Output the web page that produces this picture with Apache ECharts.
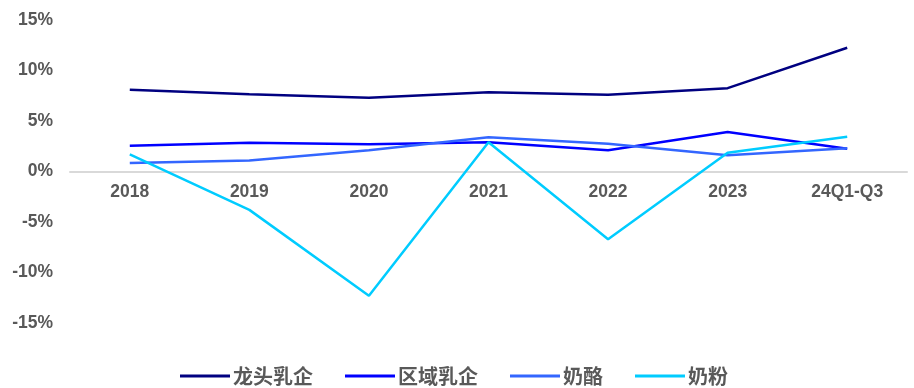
<!DOCTYPE html>
<html><head><meta charset="utf-8">
<script src="https://cdn.jsdelivr.net/npm/echarts@6/dist/echarts.min.js"></script>
<style>html,body{margin:0;padding:0;background:#fff}#c{width:914px;height:388px}</style>
</head><body><div id="c"></div>
<script>
const categories = ['2018','2019','2020','2021','2022','2023','24Q1-Q3'];
const seriesNames = ['龙头乳企','区域乳企','奶酪','奶粉'];
const leaders = [8.1, 7.65, 7.3, 7.85, 7.6, 8.25, 12.25];
const regional = [2.55, 2.85, 2.7, 2.9, 2.1, 3.9, 2.25];
const cheese = [0.85, 1.1, 2.1, 3.4, 2.75, 1.6, 2.3];
const milkPowder = [1.7, -3.8, -12.3, 2.9, -6.7, 1.85, 3.45];
const yTicks = [-15, -10, -5, 0, 5, 10, 15];
const colors = ['#000080', '#0000FF', '#3366FF', '#00CCFF'];
const values = [leaders, regional, cheese, milkPowder];

const gridTop = 20, gridBottom = 65, H = 388;
const plotH = H - gridTop - gridBottom;
const zeroOffset = plotH * (0 - yTicks[0]) / (yTicks[yTicks.length-1] - yTicks[0]);

const chart = echarts.init(document.getElementById('c'));
chart.setOption({
  animation: false,
  color: colors,
  grid: {left: 70, right: 7, top: gridTop, bottom: gridBottom, containLabel: false},
  legend: {
    top: 361, left: 175,
    data: seriesNames.map(n => ({name: n, icon: 'rect'})),
    itemWidth: 50, itemHeight: 3, itemGap: 32,
    textStyle: {color: '#595959', fontSize: 20, fontWeight: 'bold', fontFamily: 'Noto Sans CJK SC', padding: [0,0,0,-2]}
  },
  xAxis: {
    type: 'category', data: categories, boundaryGap: true,
    offset: -zeroOffset,
    axisLine: {onZero: false, lineStyle: {color: '#d9d9d9', width: 2}},
    axisTick: {show: false},
    axisLabel: {color: '#595959', fontSize: 17.5, fontWeight: 'bold', fontFamily: 'Liberation Sans', margin: 12}
  },
  yAxis: {
    type: 'value', min: yTicks[0], max: yTicks[yTicks.length-1], interval: 5,
    splitLine: {show: false}, axisLine: {show: false}, axisTick: {show: false},
    axisLabel: {color: '#595959', fontSize: 17.5, fontWeight: 'bold', fontFamily: 'Liberation Sans', margin: 17, formatter: v => v + '%'}
  },
  series: seriesNames.map((n, i) => ({
    name: n, type: 'line', data: values[i], symbol: 'none',
    lineStyle: {width: 2.5, color: colors[i]}
  }))
});
</script></body></html>
